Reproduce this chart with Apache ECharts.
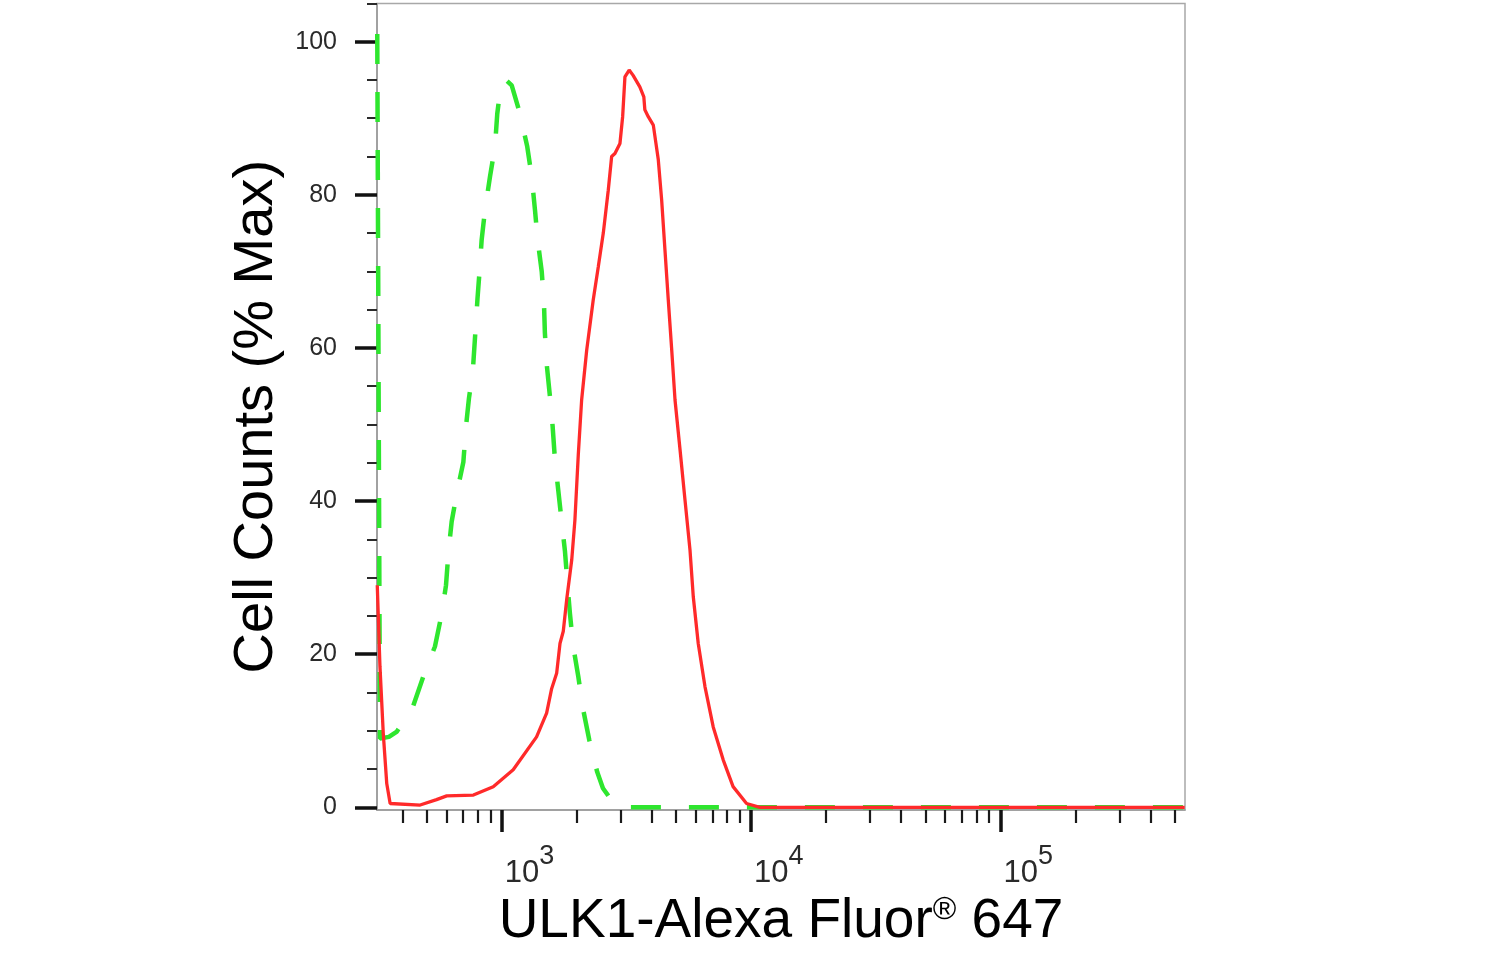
<!DOCTYPE html>
<html>
<head>
<meta charset="utf-8">
<title>ULK1 flow histogram</title>
<script src="https://cdn.jsdelivr.net/npm/echarts@6/dist/echarts.min.js"></script>
<style>
  html, body { margin: 0; padding: 0; background: #fff; }
  #main { width: 1486px; height: 955px; }
</style>
</head>
<body>
<div id="main"></div>
<script>
// ULK1 stained sample (red, solid) - fluorescence intensity / % max
const ulkIntensity = [317, 320, 325, 335, 346, 357, 471, 548, 602, 770, 925, 1112, 1380, 1514, 1586, 1661,
  1713, 1766, 1822, 1909, 1966, 2028, 2092, 2192, 2329, 2440, 2555, 2675, 2760, 2845, 2980, 3055, 3120,
  3245, 3365, 3580, 3715, 3750, 3870, 4055, 4245, 4380, 4515, 4655, 4800, 4955, 5190, 5435, 5690, 5865,
  6140, 6530, 7050, 7730, 8470, 9590, 10840, 548000];
const ulkCounts = [29, 28.8, 18.4, 9.7, 3.1, 0.5, 0.3, 1.0, 1.5, 1.6, 2.7, 4.9, 9.2, 12.3, 15.5, 17.5,
  21.4, 23, 27.1, 32.3, 37.5, 46, 53.2, 59.7, 66.3, 70.6, 75, 80.6, 85, 85.4, 86.7, 90.2, 95.4,
  96.3, 95.6, 94.1, 92.8, 91.1, 90.2, 89.1, 84.6, 79.3, 72.8, 66.3, 60, 53.2, 46.7, 40.1, 33.6, 27.5,
  21.4, 15.8, 10.5, 6.2, 2.7, 0.5, 0, 0];

// isotype control (green, dashed)
const isoIntensity = [317, 325, 353, 380, 410, 436, 485, 540, 575, 598, 612, 630, 664, 702, 719, 739,
  766, 784, 800, 815, 831, 857, 898, 940, 960, 994, 1040, 1097, 1184, 1266, 1319, 1360, 1394, 1447,
  1477, 1490, 1514, 1562, 1601, 1635, 1686, 1740, 1794, 1849, 1878, 1936, 2028, 2124, 2245, 2416,
  2547, 2717, 2925, 548000];
const isoCounts = [101, 9, 9.2, 9.9, 11.5, 12.7, 17.1, 21, 25.3, 29, 33.4, 37.3, 41.4, 45.1, 49.7, 53.4,
  57, 62, 66.5, 70, 74.1, 78, 82.4, 86.3, 90.6, 94.5, 95, 94.3, 90.6, 86.3, 82.4, 78, 74.1, 70,
  66, 62, 58, 53.6, 49.7, 45.4, 41.4, 37.3, 33.4, 27.9, 25.3, 21, 17.1, 12.7, 8.8, 4.6,
  2.5, 1.2, 0, 0];

// axes
const decades = [3, 4, 5];
const minorIntensity = [400, 500, 600, 700, 800, 900,
  2000, 3000, 4000, 5000, 6000, 7000, 8000, 9000,
  20000, 30000, 40000, 50000, 60000, 70000, 80000, 90000,
  200000, 300000, 400000, 500000];
const yMajor = [0, 20, 40, 60, 80, 100];
const yMinor = [5, 10, 15, 25, 30, 35, 45, 50, 55, 65, 70, 75, 85, 90, 95, 105];

const FONT = '"Liberation Sans", Arial, Helvetica, sans-serif';
const X_MIN = 2.5, X_MAX = 5.74;

const toPoints = (xs, ys) => xs.map((x, i) => [Math.log10(x), ys[i]]);

const chart = echarts.init(document.getElementById('main'));

const option = {
  animation: false,
  textStyle: { fontFamily: FONT },
  grid: {
    left: 377, right: 301, top: 3.4, bottom: 145,
    show: true, borderColor: '#a8a8a8', borderWidth: 1.5
  },
  xAxis: [{
    type: 'value', min: X_MIN, max: X_MAX, position: 'bottom',
    axisLine: { show: true, onZero: false, lineStyle: { color: '#999', width: 1.5 } },
    axisTick: { customValues: decades, length: 22, lineStyle: { color: '#111', width: 3.5 } },
    axisLabel: {
      customValues: decades,
      margin: 33,
      align: 'left',
      padding: [0, 0, 0, 3],
      formatter: v => '{b|10}{s|' + Math.round(v) + '}',
      rich: {
        b: { fontSize: 31, lineHeight: 46, verticalAlign: 'bottom', color: '#2a2a2a', fontFamily: '"Liberation Sans Narrow", ' + FONT },
        s: { fontSize: 27, lineHeight: 10, verticalAlign: 'top', color: '#2a2a2a', fontFamily: '"Liberation Sans Narrow", ' + FONT }
      }
    },
    splitLine: { show: false },
    name: '{t|ULK1-Alexa Fluor}{r|®}{t| 647}',
    nameLocation: 'middle',
    nameGap: 83,
    nameTextStyle: {
      rich: {
        t: { fontSize: 55, lineHeight: 55, verticalAlign: 'bottom', color: '#000' },
        r: { fontSize: 32, lineHeight: 28, verticalAlign: 'top', color: '#000' }
      }
    }
  }, {
    // minor ticks at 2..9 x 10^n
    type: 'value', min: X_MIN, max: X_MAX, position: 'bottom',
    axisLine: { show: false, onZero: false },
    axisTick: { customValues: minorIntensity.map(v => Math.log10(v)), length: 13, lineStyle: { color: '#1a1a1a', width: 2.2 } },
    axisLabel: { show: false },
    splitLine: { show: false }
  }],
  yAxis: [{
    type: 'value', min: -0.35, max: 105, position: 'left',
    axisLine: { show: true, onZero: false, lineStyle: { color: '#999', width: 1.5 } },
    axisTick: { show: true, customValues: yMajor, length: 22, lineStyle: { color: '#111', width: 3.5 } },
    axisLabel: { customValues: yMajor, margin: 40, fontSize: 25, color: '#2a2a2a' },
    splitLine: { show: false },
    name: 'Cell Counts (% Max)',
    nameLocation: 'middle',
    nameRotate: 90,
    nameGap: 90,
    nameTextStyle: { fontSize: 56, color: '#000', padding: [0, 20, 0, 0] }
  }, {
    type: 'value', min: -0.35, max: 105, position: 'left',
    axisLine: { show: false, onZero: false },
    axisTick: { show: true, customValues: yMinor, length: 10, lineStyle: { color: '#2a2a2a', width: 2 } },
    axisLabel: { show: false },
    splitLine: { show: false }
  }],
  series: [{
    name: 'Isotype',
    type: 'line',
    xAxisIndex: 0, yAxisIndex: 0,
    data: toPoints(isoIntensity, isoCounts),
    symbol: 'none',
    lineStyle: { color: '#2ee62e', width: 4.5, type: [30, 28] },
    z: 2
  }, {
    name: 'ULK1',
    type: 'line',
    xAxisIndex: 0, yAxisIndex: 0,
    data: toPoints(ulkIntensity, ulkCounts),
    symbol: 'none',
    lineStyle: { color: '#ff2a2a', width: 3.3 },
    z: 3
  }]
};

chart.setOption(option);
</script>
</body>
</html>
